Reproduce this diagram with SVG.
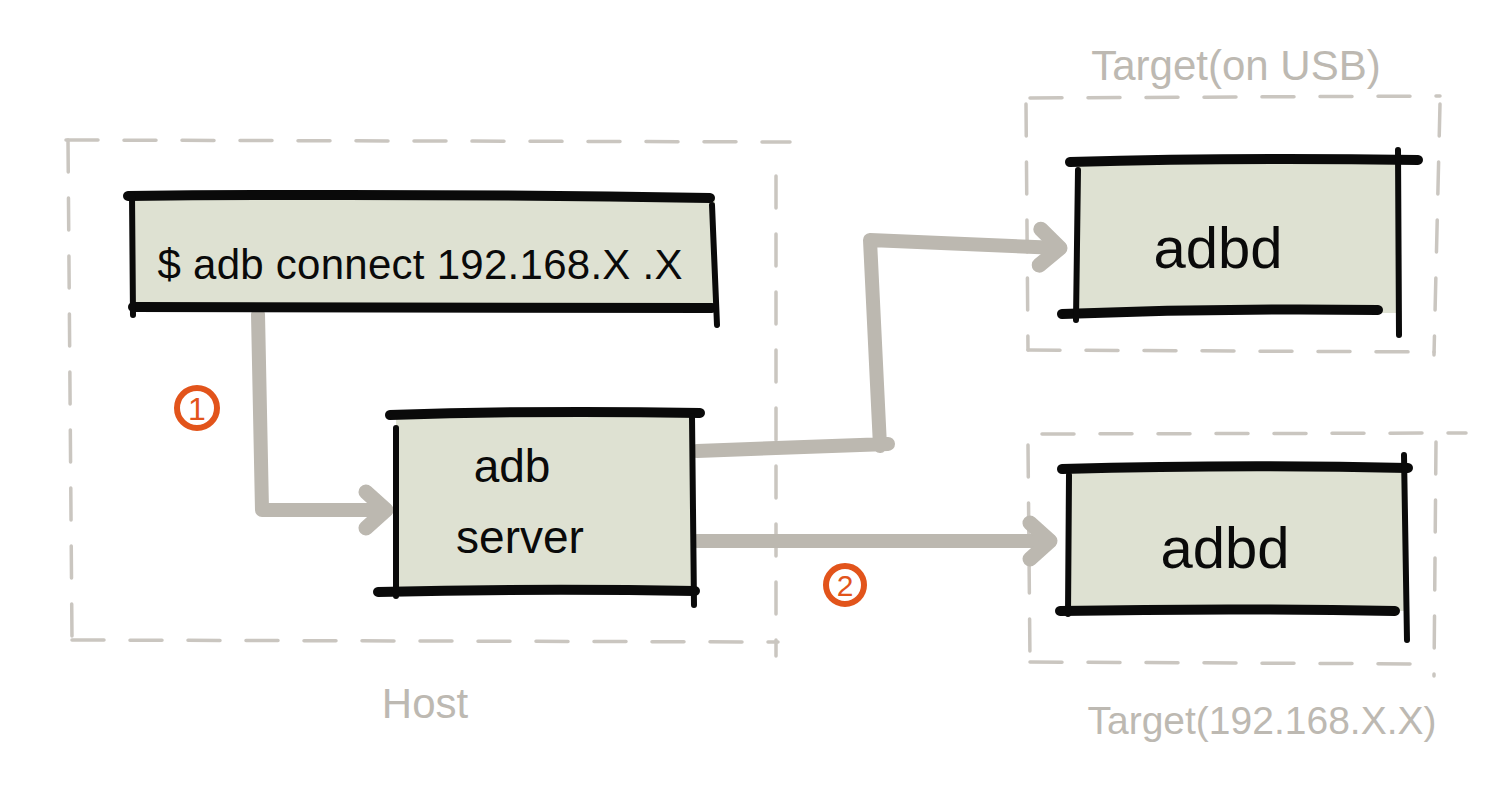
<svg xmlns="http://www.w3.org/2000/svg" width="1502" height="812" viewBox="0 0 1502 812">
<defs>
<style>
.dash{fill:none;stroke:#cac6c0;stroke-width:3.5;stroke-dasharray:32 26;stroke-linecap:round}
.fill{fill:#dee1d2}
.edge{fill:none;stroke:#0a0a0a;stroke-linecap:round}
.h{stroke-width:10}
.v{stroke-width:6}
.lbl{font-family:"Liberation Sans",Arial,sans-serif;fill:#0a0a0a}
.grey{font-family:"Liberation Sans",Arial,sans-serif;fill:#bdb9b2}
.conn{fill:none;stroke:#bcb8b0;stroke-width:14;stroke-linecap:round;stroke-linejoin:round}
.num{fill:none;stroke:#e2541b;stroke-width:6}
.numt{font-family:"Liberation Sans",Arial,sans-serif;fill:#e2541b}
</style>
<marker id="arr" markerUnits="userSpaceOnUse" markerWidth="60" markerHeight="60" refX="32" refY="30" orient="auto" viewBox="0 0 60 60" overflow="visible">
<path d="M12 12 L32 30 L12 48" fill="none" stroke="#bcb8b0" stroke-width="15" stroke-linecap="round" stroke-linejoin="round"/>
</marker>
</defs>
<rect width="1502" height="812" fill="#ffffff"/>

<g id="host">
<path class="dash" d="M66 140 L790 142"/>
<path class="dash" d="M776 176 L776 656"/>
<path class="dash" d="M72 640 L778 642"/>
<path class="dash" d="M68 140 L72 640"/>
<text class="grey" x="425" y="718" font-size="42" text-anchor="middle">Host</text>
</g>

<g id="target-usb">
<path class="dash" d="M1030 98 L1440 96"/>
<path class="dash" d="M1440 104 L1434 355"/>
<path class="dash" d="M1028 350 L1434 352"/>
<path class="dash" d="M1026 104 L1028 350"/>
<text class="grey" x="1236" y="80" font-size="42" text-anchor="middle">Target(on USB)</text>
</g>

<g id="target-ip">
<path class="dash" d="M1042 434 L1466 433"/>
<path class="dash" d="M1436 442 L1434 676"/>
<path class="dash" d="M1030 662 L1434 664"/>
<path class="dash" d="M1028 445 L1030 662"/>
<text class="grey" x="1262" y="734" font-size="39" text-anchor="middle">Target(192.168.X.X)</text>
</g>

<g id="connectors">
<path class="conn" d="M258 314 L262 510 L386 510" marker-end="url(#arr)"/>
<path class="conn" d="M697 451 L888 444 M880 446 L870 240 L1060 248" marker-end="url(#arr)"/>
<path class="conn" d="M697 541 L1050 541" marker-end="url(#arr)"/>
</g>

<g id="cmd">
<rect class="fill" x="133" y="197" width="582" height="111"/>
<path class="edge h" d="M128 196 Q420 193 710 198"/>
<path class="edge h" d="M133 307 L712 308"/>
<path class="edge v" d="M132 195 L133 315"/>
<path class="edge v" d="M712 205 L717 325"/>
<text class="lbl" x="420" y="279" font-size="42" text-anchor="middle" textLength="525" lengthAdjust="spacing">$ adb connect 192.168.X .X</text>
</g>

<g id="adb-server">
<rect class="fill" x="396" y="416" width="296" height="174"/>
<path class="edge h" d="M390 415 Q540 410 700 413"/>
<path class="edge h" d="M378 592 Q540 588 695 591"/>
<path class="edge v" d="M396 428 L396 596"/>
<path class="edge v" d="M692 416 L694 605"/>
<text class="lbl" x="512" y="482" font-size="46" text-anchor="middle">adb</text>
<text class="lbl" x="520" y="553" font-size="46" text-anchor="middle">server</text>
</g>

<g id="adbd-usb">
<rect class="fill" x="1077" y="163" width="321" height="150"/>
<path class="edge h" d="M1070 162 Q1240 157 1418 160"/>
<path class="edge h" d="M1062 314 Q1220 308 1378 310"/>
<path class="edge v" d="M1078 170 L1076 320"/>
<path class="edge v" d="M1398 150 L1399 335"/>
<text class="lbl" x="1218" y="268" font-size="58" text-anchor="middle">adbd</text>
</g>

<g id="adbd-ip">
<rect class="fill" x="1068" y="469" width="336" height="142"/>
<path class="edge h" d="M1062 469 Q1240 464 1408 468"/>
<path class="edge h" d="M1060 611 Q1230 608 1395 611"/>
<path class="edge v" d="M1069 475 L1068 614"/>
<path class="edge v" d="M1404 455 L1407 640"/>
<text class="lbl" x="1225" y="568" font-size="58" text-anchor="middle">adbd</text>
</g>

<g id="step1">
<circle class="num" cx="197" cy="408" r="20"/>
<text class="numt" x="197" y="420" font-size="32" text-anchor="middle">1</text>
</g>
<g id="step2">
<circle class="num" cx="845" cy="585" r="19"/>
<text class="numt" x="845" y="596" font-size="30" text-anchor="middle">2</text>
</g>
</svg>
